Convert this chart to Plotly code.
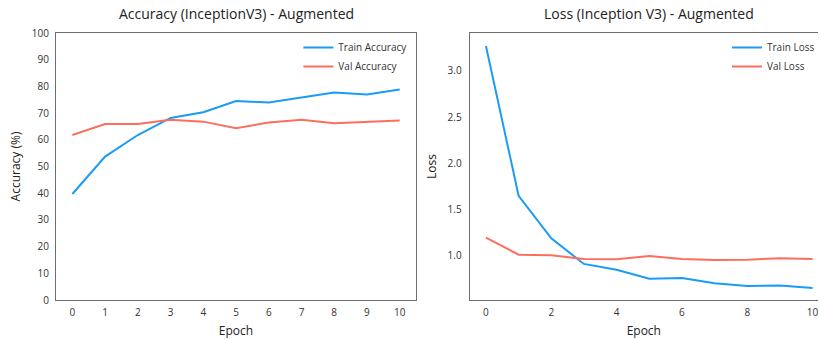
import plotly.graph_objects as go
from plotly.subplots import make_subplots

epochs = list(range(11))
train_acc = [39.7, 53.7, 61.8, 68.2, 70.3, 74.5, 74.0, 75.8, 77.7, 77.0, 78.8]
val_acc = [61.8, 65.9, 65.9, 67.5, 66.8, 64.3, 66.5, 67.5, 66.2, 66.8, 67.2]
train_loss = [3.27, 1.65, 1.19, 0.914, 0.85, 0.755, 0.762, 0.705, 0.676, 0.68, 0.654]
val_loss = [1.198, 1.014, 1.007, 0.968, 0.964, 1.0, 0.968, 0.957, 0.96, 0.975, 0.968]

acc_ticks = list(range(0, 101, 10))
loss_ticks = [1.0, 1.5, 2.0, 2.5, 3.0]

BLUE = "#1a9cf5"
RED = "#fc6f5c"
FONT = "Open Sans"
AXC = "#6e6e6e"

fig = make_subplots(rows=1, cols=2)

fig.add_trace(go.Scatter(x=epochs, y=train_acc, mode="lines", name="Train Accuracy",
                         line=dict(color=BLUE, width=2), legend="legend"), row=1, col=1)
fig.add_trace(go.Scatter(x=epochs, y=val_acc, mode="lines", name="Val Accuracy",
                         line=dict(color=RED, width=2), legend="legend"), row=1, col=1)
fig.add_trace(go.Scatter(x=epochs, y=train_loss, mode="lines", name="Train Loss",
                         line=dict(color=BLUE, width=2), legend="legend2"), row=1, col=2)
fig.add_trace(go.Scatter(x=epochs, y=val_loss, mode="lines", name="Val Loss",
                         line=dict(color=RED, width=2), legend="legend2"), row=1, col=2)

W, H = 820, 339
ml, mr, mt, mb = 56, 0, 33, 39
pw = W - ml - mr
ph = H - mt - mb

def px(x):
    return (x - ml) / pw

axis_common = dict(showline=True, linecolor=AXC, linewidth=1, showgrid=False, zeroline=False,
                   ticks="", automargin=False, ticklabeloverflow="allow",
                   tickfont=dict(family=FONT, size=10, color="#333"),
                   title_font=dict(family=FONT, size=12, color="#222"))

fig.update_xaxes(axis_common)
fig.update_yaxes(axis_common)

fig.update_xaxes(domain=[0, px(417)], range=[-0.5, 10.5], tickvals=epochs, mirror=True,
                 title_text="Epoch", title_standoff=10, ticklabelstandoff=3, row=1, col=1)
fig.update_yaxes(range=[0, 100], tickvals=acc_ticks, mirror=True, title_text="Accuracy (%)",
                 title_standoff=8, ticklabelstandoff=4, row=1, col=1)

fig.update_xaxes(domain=[px(470.7), 1], range=[-0.5, 10.166], tickvals=[0, 2, 4, 6, 8, 10],
                 mirror=True, title_text="Epoch", title_standoff=10, ticklabelstandoff=3, row=1, col=2)
fig.update_yaxes(range=[0.524, 3.41], tickvals=loss_ticks, tickformat=".1f", mirror=False,
                 title_text="Loss", title_standoff=8, ticklabelstandoff=5, row=1, col=2)

legend_style = dict(font=dict(family=FONT, size=10, color="#333"), bgcolor="rgba(0,0,0,0)",
                    itemwidth=30, tracegroupgap=0, yanchor="top", xanchor="left")

fig.update_layout(
    width=W, height=H,
    margin=dict(l=ml, r=mr, t=mt, b=mb),
    plot_bgcolor="white", paper_bgcolor="white",
    legend=dict(legend_style, x=px(299), y=1.0),
    legend2=dict(legend_style, x=px(729), y=1.0),
    annotations=[
        dict(text="Accuracy (InceptionV3) - Augmented", x=px(236.5), y=1, yref="paper",
             xref="paper", xanchor="center", yanchor="bottom", yshift=8, showarrow=False,
             font=dict(family=FONT, size=14, color="#222")),
        dict(text="Loss (Inception V3) - Augmented", x=px(650.8), y=1, yref="paper",
             xref="paper", xanchor="center", yanchor="bottom", yshift=8, showarrow=False,
             font=dict(family=FONT, size=14, color="#222")),
    ],
)

fig.write_html("out.html", config={"displayModeBar": False},
               post_script="document.body.style.margin='0';document.body.style.overflow='hidden';")
